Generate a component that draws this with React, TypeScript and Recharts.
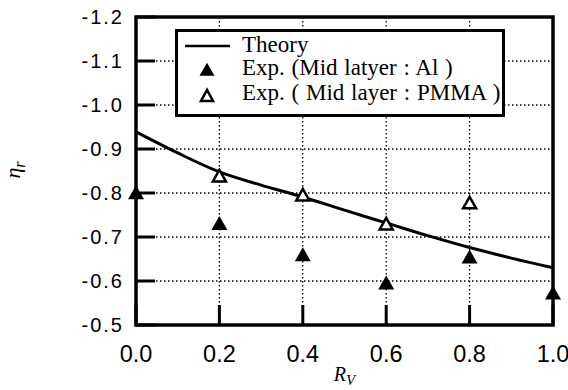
import {
  ComposedChart,
  Line,
  Scatter,
  XAxis,
  YAxis,
  CartesianGrid,
  ReferenceArea,
  Legend,
} from "recharts";

const xTicks = [0, 0.2, 0.4, 0.6, 0.8, 1.0];
const yTicks = [-1.2, -1.1, -1.0, -0.9, -0.8, -0.7, -0.6, -0.5];

const theoryX = [0, 0.1, 0.2, 0.3, 0.4, 0.5, 0.6, 0.7, 0.8, 0.9, 1.0];
const theoryY = [-0.939, -0.891, -0.848, -0.818, -0.791, -0.761, -0.732, -0.703, -0.676, -0.652, -0.63];

const alX = [0, 0.2, 0.4, 0.6, 0.8, 1.0];
const alY = [-0.8, -0.73, -0.659, -0.595, -0.654, -0.572];

const pmmaX = [0.2, 0.4, 0.6, 0.8];
const pmmaY = [-0.838, -0.795, -0.729, -0.777];

const theory = theoryX.map((x, i) => ({ x, y: theoryY[i] }));
const al = alX.map((x, i) => ({ x, y: alY[i] }));
const pmma = pmmaX.map((x, i) => ({ x, y: pmmaY[i] }));

const sans = "'Liberation Sans', Arial, sans-serif";
const serif = "'Liberation Serif', 'Times New Roman', serif";

const YTick = ({ x, y, payload }: any) => (
  <g>
    <line x1={x + 14} x2={x + 33} y1={y} y2={y} stroke="#000" strokeWidth={3} />
    <text x={x + 2} y={y + 7} textAnchor="end" fontFamily={sans} fontSize={20} letterSpacing={2} fill="#000" stroke="none">
      {payload.value.toFixed(1)}
    </text>
  </g>
);

const XTick = ({ x, y, payload }: any) => (
  <g>
    <line x1={x} x2={x} y1={y} y2={y - 20} stroke="#000" strokeWidth={3} />
    <text x={x} y={y + 37} textAnchor="middle" fontFamily={sans} fontSize={23.5} fill="#000" stroke="none">
      {payload.value.toFixed(1)}
    </text>
  </g>
);

// plot frame, drawn from the reference area's box
const Frame = ({ x, y, width, height }: any) => (
  <rect x={x} y={y} width={width} height={height} fill="none" stroke="#000" strokeWidth={3.5} />
);

const tri = (cx: number, cy: number, w: number, h: number) =>
  `M${cx},${cy - h * 0.55} L${cx - w / 2},${cy + h * 0.45} L${cx + w / 2},${cy + h * 0.45} Z`;

const FilledTri = ({ cx, cy }: any) => <path d={tri(cx, cy, 16, 14)} fill="#000" />;
const OpenTri = ({ cx, cy }: any) => (
  <path d={tri(cx, cy, 13, 11.5)} fill="#fff" stroke="#000" strokeWidth={2.5} />
);

const LegendBox = () => (
  <svg width={330} height={88}>
    <rect x={1.5} y={1.5} width={327} height={85} fill="#fff" stroke="#000" strokeWidth={3} />
    <line x1={10} x2={55} y1={17} y2={17} stroke="#000" strokeWidth={2.5} />
    <path d={tri(32, 41, 15, 13)} fill="#000" />
    <path d={tri(32, 67, 12, 11)} fill="#fff" stroke="#000" strokeWidth={2.5} />
    <g fontFamily={serif} fontSize={23} wordSpacing={1} fill="#000">
      <text x={67} y={23}>Theory</text>
      <text x={67} y={46}>Exp. (Mid latyer : Al )</text>
      <text x={67} y={71}>Exp. ( Mid layer : PMMA )</text>
    </g>
  </svg>
);

const XLabel = ({ viewBox }: any) => (
  <text x={viewBox.x + viewBox.width / 2} y={viewBox.y + 56} textAnchor="middle" fontFamily={serif} fontStyle="italic" fontSize={20} fill="#000" stroke="none">
    R<tspan fontSize={15} dy={4}>V</tspan>
  </text>
);

const YLabel = () => (
  <g transform="rotate(-90,20,170)">
    <text x={20} y={170} textAnchor="middle" fontFamily={serif} fontStyle="italic" fontSize={22} fill="#000" stroke="none">
      η<tspan fontSize={16} dy={5}>r</tspan>
    </text>
  </g>
);

export default function App() {
  return (
    <div style={{ position: "absolute", left: 0, top: 0 }}>
      <ComposedChart width={568} height={390} margin={{ top: 17, right: 15, left: 0, bottom: 0 }}>
        <CartesianGrid stroke="#000" strokeWidth={1.3} strokeDasharray="1.5 2.5" />
        <XAxis
          type="number"
          dataKey="x"
          domain={[0, 1]}
          ticks={xTicks}
          height={65}
          tickSize={0}
          tickMargin={0}
          axisLine={false}
          tickLine={false}
          tick={<XTick />}
          label={<XLabel />}
          allowDuplicatedCategory={false}
        />
        <YAxis
          type="number"
          dataKey="y"
          domain={[-1.2, -0.5]}
          ticks={yTicks}
          reversed
          width={136}
          tickSize={0}
          tickMargin={14}
          axisLine={false}
          tickLine={false}
          tick={<YTick />}
          label={<YLabel />}
        />
        <ReferenceArea x1={0} x2={1} y1={-1.2} y2={-0.5} ifOverflow="visible" shape={<Frame />} />
        <Legend
          layout="vertical"
          align="center"
          verticalAlign="middle"
          content={<LegendBox />}
          wrapperStyle={{ position: "absolute", left: 175, top: 29, width: 330, height: 88 }}
        />
        <Line data={theory} dataKey="y" type="monotone" stroke="#000" strokeWidth={3} dot={false} isAnimationActive={false} legendType="none" />
        <Scatter data={al} dataKey="y" shape={<FilledTri />} isAnimationActive={false} />
        <Scatter data={pmma} dataKey="y" shape={<OpenTri />} isAnimationActive={false} />
      </ComposedChart>
    </div>
  );
}
